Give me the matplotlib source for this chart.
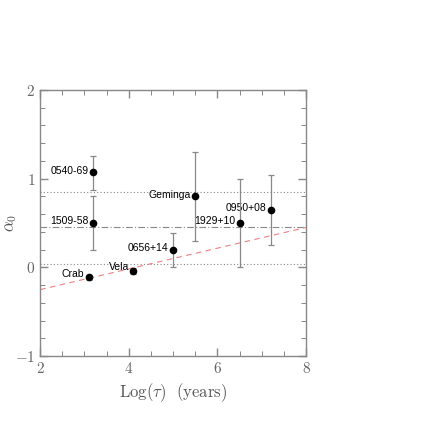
import matplotlib
matplotlib.use("Agg")
import matplotlib.pyplot as plt
from matplotlib.ticker import MultipleLocator, FuncFormatter

plt.rcParams['mathtext.fontset'] = 'cm'

names = ["0540-69", "1509-58", "Geminga", "0656+14", "Vela", "Crab", "1929+10", "0950+08"]
log_tau = [3.2, 3.2, 5.5, 5.0, 4.1, 3.1, 6.5, 7.2]
alpha0 = [1.07, 0.50, 0.80, 0.20, -0.04, -0.11, 0.50, 0.65]
err_up = [0.19, 0.30, 0.50, 0.19, 0.03, 0.03, 0.50, 0.39]
err_lo = [0.20, 0.30, 0.50, 0.20, 0.03, 0.03, 0.50, 0.40]
hlines_dotted = [0.85, 0.04]
hline_dashdot = 0.45
fit_x = [2.0, 8.0]
fit_y = [-0.25, 0.45]

fig = plt.figure(figsize=(4.36, 4.36), dpi=100)
ax = fig.add_axes([0.092, 0.183, 0.61, 0.611])

grey = '#888888'
for y in hlines_dotted:
    ax.axhline(y, color=grey, ls=(0, (1, 2)), lw=0.8)
ax.axhline(hline_dashdot, color=grey, ls=(0, (6, 2, 1, 2)), lw=0.8)
ax.plot(fit_x, fit_y, color='#f08080', ls=(0, (5, 4)), lw=0.8)

ax.errorbar(log_tau, alpha0, yerr=[err_lo, err_up], fmt='o', color='black',
            ms=4.5, ecolor=grey, elinewidth=0.9, capsize=2.5, capthick=0.9, zorder=5)

offsets = {"Vela": 0.05, "Crab": 0.04}
for n, x, y in zip(names, log_tau, alpha0):
    dy = offsets.get(n, 0.02)
    ax.text(x - 0.1, y + dy, n, ha='right', va='center', fontsize=7.5,
            family='Liberation Sans')

ax.set_xlim(2, 8)
ax.set_ylim(-1, 2)
ax.xaxis.set_major_locator(MultipleLocator(2))
ax.xaxis.set_minor_locator(MultipleLocator(0.5))
ax.yaxis.set_major_locator(MultipleLocator(1))
ax.yaxis.set_minor_locator(MultipleLocator(0.2))
fmt = FuncFormatter(lambda v, p: r'$%d$' % round(v))
ax.xaxis.set_major_formatter(fmt)
ax.yaxis.set_major_formatter(fmt)
ax.tick_params(which='both', direction='in', top=True, right=True, color=grey,
               labelcolor='#666666', labelsize=11)
ax.tick_params(which='major', length=6, width=1.0)
ax.tick_params(which='minor', length=3.5, width=0.7)
for s in ax.spines.values():
    s.set_color(grey)
    s.set_linewidth(1.0)

ax.set_xlabel(r'$\mathrm{Log}(\tau)\ \ \mathrm{(years)}$', fontsize=12, color='#555555')
ax.set_ylabel(r'$\alpha_0$', fontsize=12, color='#555555')
ax.yaxis.set_label_coords(-0.08, 0.5)

fig.savefig('out.png', dpi=100)
